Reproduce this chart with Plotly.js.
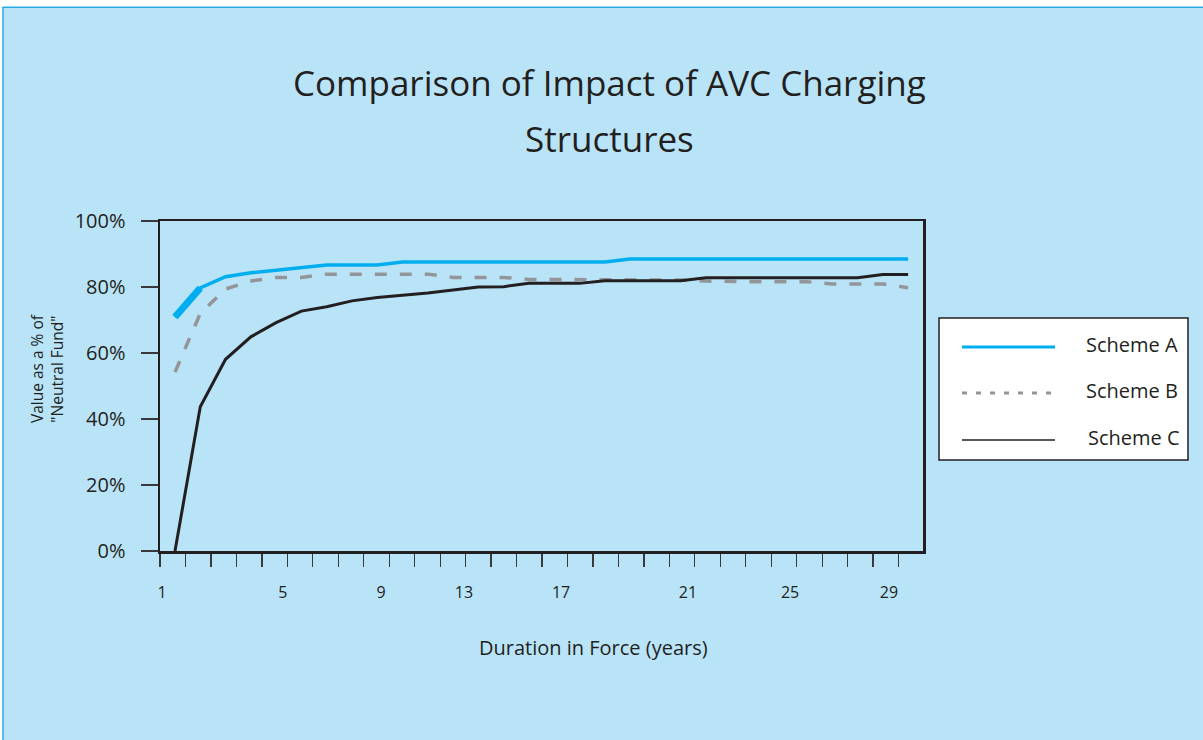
<!DOCTYPE html>
<html>
<head>
<meta charset="utf-8">
<script src="https://cdn.plot.ly/plotly-3.0.1.min.js"></script>
<style>html,body{margin:0;padding:0;background:#fff;}#chart{width:1203px;height:740px;}</style>
</head>
<body>
<div id="chart"></div>
<script>
// ---- data ----
const years = [1,2,3,4,5,6,7,8,9,10,11,12,13,14,15,16,17,18,19,20,21,22,23,24,25,26,27,28,29,30];
const schemeA = [70.9,79.7,83.1,84.3,85.1,85.8,86.7,86.7,86.7,87.6,87.6,87.6,87.6,87.6,87.6,87.6,87.6,87.6,88.5,88.5,88.5,88.5,88.5,88.5,88.5,88.5,88.5,88.5,88.5,88.5];
const schemeB = [54.2,72.0,79.4,81.8,82.9,82.9,83.9,83.9,83.9,83.9,83.9,82.9,82.9,82.9,82.3,82.3,82.3,82.1,82.1,82.1,82.1,81.8,81.6,81.6,81.6,81.6,80.9,80.9,80.9,79.8];
const schemeC = [0,43.7,58.1,64.9,69.2,72.7,74.0,75.8,76.8,77.4,78.2,79.1,80.0,80.1,81.1,81.1,81.1,81.9,81.9,81.9,81.9,82.8,82.8,82.8,82.8,82.8,82.8,82.8,83.8,83.8];
const seriesNames = ["Scheme A","Scheme B","Scheme C"];
const xTickLabels = ["1","5","9","13","17","21","25","29"];
const yTickValues = [0,20,40,60,80,100];
const yTickLabels = ["0%","20%","40%","60%","80%","100%"];
const titleLines = ["Comparison of Impact of AVC Charging","Structures"];
const xTitle = "Duration in Force (years)";
const yTitleLines = ["Value as a % of","\"Neutral Fund\""];

// ---- styling ----
const FONT = "'Open Sans', 'Noto Sans', sans-serif";
const INK = "#231f20";
const BLUE = "#00aeef";
const GREY = "#939598";

const traces = [
  {x: years, y: schemeB, type: "scatter", mode: "lines", name: seriesNames[1],
   line: {color: GREY, width: 3.5, dash: "12px,13px"}, showlegend: false, hoverinfo: "skip"},
  {x: years, y: schemeC, type: "scatter", mode: "lines", name: seriesNames[2],
   line: {color: INK, width: 3}, showlegend: false, hoverinfo: "skip"},
  {x: years, y: schemeA, type: "scatter", mode: "lines", name: seriesNames[0],
   line: {color: BLUE, width: 3.5}, showlegend: false, hoverinfo: "skip"},
  {x: years.slice(0,2), y: schemeA.slice(0,2), type: "scatter", mode: "lines", name: seriesNames[0],
   line: {color: BLUE, width: 7}, showlegend: false, hoverinfo: "skip"}
];

// legend drawn as shapes + annotations (wide sample lines)
const legX0 = 1.021, legX1 = 1.3473, legY0 = 0.2758, legY1 = 0.706;
const rowY = [0.618, 0.4788, 0.3364];
const legendStyles = [
  {color: BLUE, width: 3, dash: "solid"},
  {color: GREY, width: 3, dash: "5px,9px"},
  {color: INK, width: 1.5, dash: "solid"}
];

const shapes = [
  {type: "rect", xref: "paper", yref: "paper", x0: -0.2058, x1: 1.4, y0: -0.6, y1: 1.648,
   fillcolor: "#b9e4f8", line: {color: "#29abe2", width: 1.5}, layer: "below"},
  {type: "rect", xref: "paper", yref: "paper", x0: legX0, x1: legX1, y0: legY0, y1: legY1,
   fillcolor: "#ffffff", line: {color: INK, width: 1.5}, layer: "above"}
];
const annotations = [];
const legTextX = [1.2104, 1.2104, 1.2130];
seriesNames.forEach((nm, i) => {
  shapes.push({type: "line", xref: "paper", yref: "paper", x0: 1.0511, x1: 1.173, y0: rowY[i], y1: rowY[i],
    line: legendStyles[i], layer: "above"});
  annotations.push({xref: "paper", yref: "paper", x: legTextX[i], y: rowY[i] + 0.008, text: nm, showarrow: false,
    xanchor: "left", yanchor: "middle", font: {family: FONT, size: 20, color: INK}});
});
annotations.push({xref: "paper", yref: "paper", x: 0.5885, y: 1.421, text: titleLines[0], showarrow: false,
  xanchor: "center", yanchor: "middle", font: {family: FONT, size: 35, color: INK}});
annotations.push({xref: "paper", yref: "paper", x: 0.5885, y: 1.2485, text: titleLines[1], showarrow: false,
  xanchor: "center", yanchor: "middle", font: {family: FONT, size: 35, color: INK}});
annotations.push({xref: "paper", yref: "paper", x: 0.5675, y: -0.291, text: xTitle, showarrow: false,
  xanchor: "center", yanchor: "middle", font: {family: FONT, size: 20, color: INK}});
annotations.push({xref: "paper", yref: "paper", x: -0.148, y: 0.5515, text: yTitleLines.join("<br>"), showarrow: false,
  textangle: -90, xanchor: "center", yanchor: "middle", font: {family: FONT, size: 15.5, color: INK}});

const layout = {
  width: 1203, height: 740,
  margin: {l: 160, r: 280, t: 221, b: 189, pad: 0},
  paper_bgcolor: "#ffffff",
  plot_bgcolor: "rgba(0,0,0,0)",
  showlegend: false,
  font: {family: FONT, color: INK},
  xaxis: {
    range: [0.4066, 30.589], showgrid: false, zeroline: false,
    showline: true, linecolor: INK, linewidth: 2.5, mirror: true,
    tickmode: "array",
    tickvals: [0.49, 5.27, 9.15, 12.43, 16.27, 21.29, 25.33, 29.24],
    ticktext: xTickLabels,
    ticks: "", ticklabelstandoff: 25,
    tickfont: {family: FONT, size: 16, color: INK},
    minor: {ticks: "outside", ticklen: 13, tickwidth: 1.3, tickcolor: "#3a3a3a", tick0: 0.4066, dtick: 1.0075, showgrid: false}
  },
  yaxis: {
    range: [0, 100], showgrid: false, zeroline: false,
    showline: true, linecolor: INK, linewidth: 2.5, mirror: true,
    tickmode: "array", tickvals: yTickValues, ticktext: yTickLabels,
    ticks: "outside", ticklen: 17, tickwidth: 1.3, tickcolor: "#3a3a3a",
    ticklabelstandoff: 11,
    tickfont: {family: FONT, size: 20, color: INK}
  },
  shapes: shapes,
  annotations: annotations
};

Plotly.newPlot("chart", traces, layout, {displayModeBar: false, staticPlot: true});
</script>
</body>
</html>
